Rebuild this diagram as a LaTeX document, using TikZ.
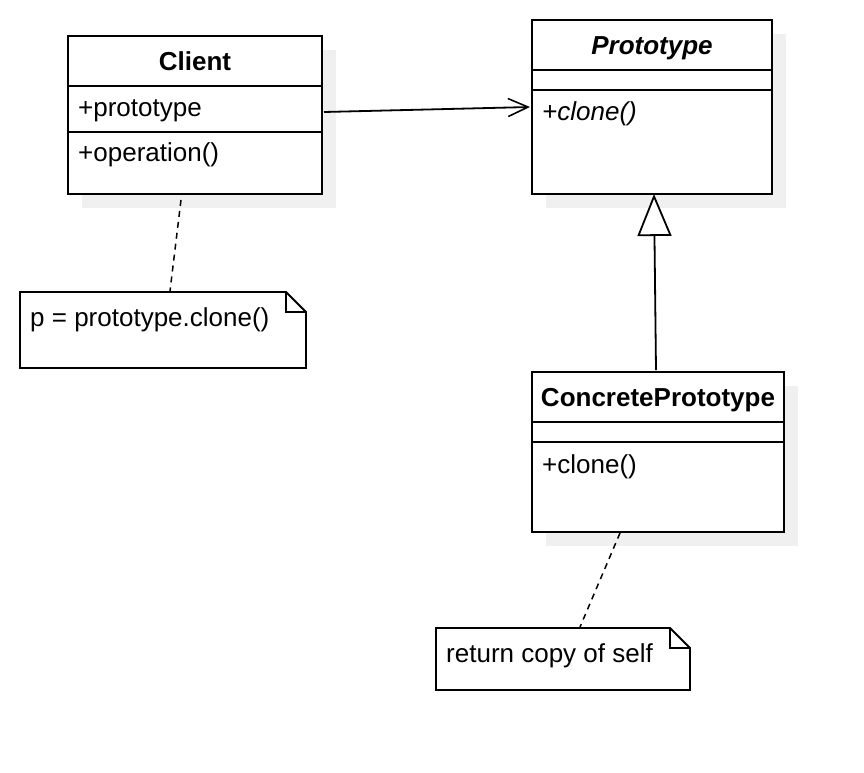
\documentclass[tikz,border=0pt]{standalone}
\usepackage{fontspec}
\setmainfont{Liberation Sans}
\usetikzlibrary{arrows.meta,calc}
\definecolor{shadowgray}{RGB}{240,240,240}
\begin{document}
\begin{tikzpicture}[x=1pt,y=-1pt,
  ln/.style={line width=1.8pt,draw=black},
  umlbox/.style={ln,fill=white,inner sep=0pt,outer sep=0pt},
  txt/.style={inner sep=0pt,font=\fontsize{26}{31}\selectfont},
  dashline/.style={line width=1.5pt,dash pattern=on 6pt off 5pt},
  shade/.style={fill=shadowgray}
]
\useasboundingbox (0,0) rectangle (864,772);
% shadows
\fill[shade] (82,50) rectangle (336,208);
\fill[shade] (546,34) rectangle (786,208);
\fill[shade] (546,386) rectangle (798,546);
% boxes
\node[umlbox,minimum width=254pt,minimum height=158pt] (client) at (195,115) {};
\node[umlbox,minimum width=240pt,minimum height=174pt] (proto) at (652,107) {};
\node[umlbox,minimum width=252pt,minimum height=160pt] (concrete) at (658,452) {};
% compartments
\draw[ln] (client.west |- 0,86) -- (client.east |- 0,86);
\draw[ln] (client.west |- 0,132) -- (client.east |- 0,132);
\draw[ln] (proto.west |- 0,70) -- (proto.east |- 0,70);
\draw[ln] (proto.west |- 0,90) -- (proto.east |- 0,90);
\draw[ln] (concrete.west |- 0,422) -- (concrete.east |- 0,422);
\draw[ln] (concrete.west |- 0,442) -- (concrete.east |- 0,442);
% texts
\node[txt,anchor=base] (tclient) at (195,70) {\bfseries Client};
\node[txt,anchor=base west] (tcproto) at (78,116) {+prototype};
\node[txt,anchor=base west] (tcop) at (78,161) {+operation()};
\node[txt,anchor=base] (tproto) at (652,54) {\bfseries\itshape Prototype};
\node[txt,anchor=base west] (tpclone) at (542,120) {\itshape +clone()};
\node[txt,anchor=base] (tconc) at (658,406) {\bfseries ConcretePrototype};
\node[txt,anchor=base west] (tcclone) at (542,473) {+clone()};
% notes
\node[inner sep=0pt,outer sep=0pt,minimum width=286pt,minimum height=76pt] (note1) at (163,330) {};
\node[inner sep=0pt,outer sep=0pt,minimum width=254pt,minimum height=62pt] (note2) at (563,659) {};
\foreach \n in {note1,note2}{
  \draw[ln,fill=white,line join=miter] (\n.north west) -- ([xshift=-20pt]\n.north east) -- ([yshift=-20pt]\n.north east) -- (\n.south east) -- (\n.south west) -- cycle;
  \draw[ln] ([xshift=-20pt]\n.north east) |- ([yshift=-20pt]\n.north east);
}
\node[txt,anchor=base west] (tn1) at (30,326) {p = prototype.clone()};
\node[txt,anchor=base west] (tn2) at (446,662) {return copy of self};
% connectors
\draw[ln,-{Straight Barb[length=20pt,width=18pt,line width=1.6pt]}] ([xshift=2pt,yshift=3pt]client.east) -- ([xshift=-2pt]proto.west);
\draw[ln,-{Triangle[open,fill=white,length=42pt,width=34pt,line width=1.8pt]}] ([xshift=-2pt,yshift=2pt]concrete.north) -- ([xshift=2pt]proto.south);
\draw[dashline] ([xshift=-14pt,yshift=-6pt]client.south) -- ([xshift=7pt,yshift=1pt]note1.north);
\draw[dashline] ([xshift=-38pt,yshift=-1pt]concrete.south) -- ([xshift=17pt,yshift=1pt]note2.north);
\end{tikzpicture}
\end{document}
